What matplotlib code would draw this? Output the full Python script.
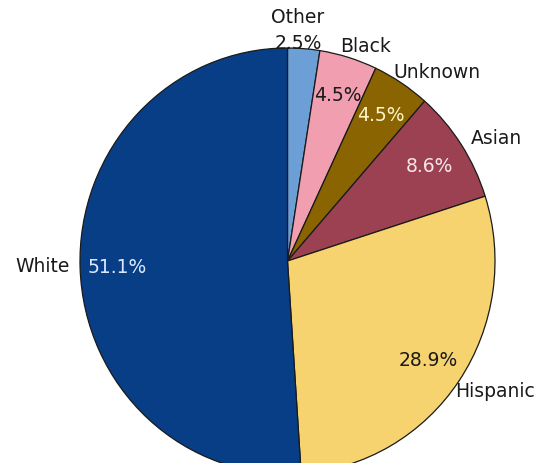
import matplotlib
matplotlib.use("Agg")
import matplotlib.pyplot as plt

# Share of each group, in percent, listed clockwise from 12 o'clock
groups = ["Other", "Black", "Unknown", "Asian", "Hispanic", "White"]
shares = [2.5, 4.5, 4.5, 8.6, 28.9, 51.1]
colors = ["#6b9fd6", "#f19fb0", "#8a6400", "#9b4152", "#f7d36f", "#073e86"]
pct_colors = ["#1a1a1a", "#1a1a1a", "#fff6c8", "#f8e6ea", "#1a1a1a", "#dde8ff"]

# Label anchors (data units) and their horizontal alignment
label_pos = [(0.051, 1.146), (0.253, 1.014), (0.508, 0.892),
             (0.884, 0.582), (0.807, -0.610), (-1.048, -0.019)]
label_ha = ["center", "left", "left", "left", "left", "right"]

fig = plt.figure(figsize=(5.45, 4.64), dpi=100)
ax = fig.add_axes([0, 0, 1, 1])

pct_iter = iter(shares)
wedges, texts, autotexts = ax.pie(
    shares,
    labels=groups,
    colors=colors,
    startangle=90,
    counterclock=False,
    autopct=lambda p: f"{next(pct_iter):.1f}%",
    pctdistance=0.82,
    labeldistance=1.04,
    wedgeprops=dict(edgecolor="#1a1a1a", linewidth=0.9),
    textprops=dict(fontsize=13.5, color="#1a1a1a"),
)

for t, c in zip(autotexts, pct_colors):
    t.set_color(c)

for t, pos, ha in zip(texts, label_pos, label_ha):
    t.set_position(pos)
    t.set_ha(ha)
    t.set_va("center")

# The thin "Other" slice shows its value just above the rim
autotexts[0].set_position((0.051, 1.028))

ax.set_xlim(-287.5 / 207.5, (545 - 287.5) / 207.5)
ax.set_ylim(-202 / 213, 262 / 213)
ax.set_aspect("auto")
ax.axis("off")

fig.savefig("out.png", dpi=100)
